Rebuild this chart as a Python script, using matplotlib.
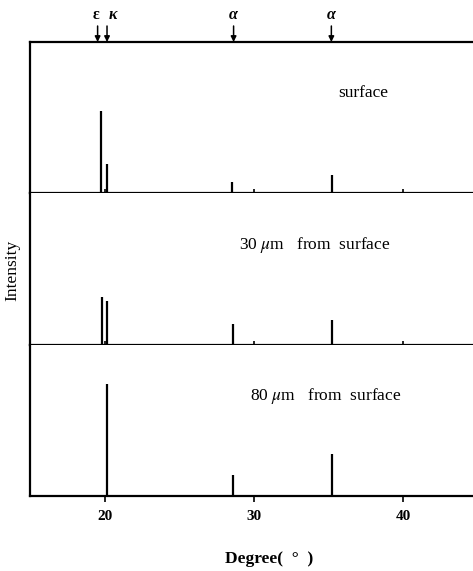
import matplotlib.pyplot as plt
from matplotlib.transforms import blended_transform_factory

plt.rcParams["font.family"] = ["Liberation Serif", "DejaVu Serif"]
plt.rcParams["mathtext.fontset"] = "stix"

# peak positions (degree) and heights
surf_pos = [19.76, 20.13, 28.55, 35.2]
surf_int = [82, 29, 11, 18]
mid_pos = [19.8, 20.15, 28.6, 35.2]
mid_int = [48, 44, 21, 25]
deep_pos = [20.13, 28.6, 35.2]
deep_int = [112, 21, 42]

panel_labels = ["surface", "30 $\\mu$m   from  surface", "80 $\\mu$m   from  surface"]
label_x = [37.3, 34.1, 34.8]

phase_names = ["ε", "κ", "α", "α"]
phase_arrow_x = [19.53, 20.16, 28.64, 35.19]
phase_text_x = [19.45, 20.55, 28.64, 35.19]

fig = plt.figure(figsize=(4.73, 5.71), dpi=100)
W, H = 473, 571
left = 30 / W
top_px, bot_px = 42, 496
ph = (bot_px - top_px) / 3

axes = []
for i in range(3):
    y0 = 1 - (top_px + ph * (i + 1)) / H
    ax = fig.add_axes([left, y0, 1 - left, ph / H])
    axes.append(ax)

data = [(surf_pos, surf_int), (mid_pos, mid_int), (deep_pos, deep_int)]
for i, ax in enumerate(axes):
    pos, inten = data[i]
    ax.vlines(pos, 0, inten, color="black", linewidth=1.6)
    ax.set_xlim(15, 44.68)
    ax.set_ylim(0, ph)
    ax.set_yticks([])
    ax.spines["right"].set_visible(False)
    for s in ["left", "bottom", "top"]:
        ax.spines[s].set_linewidth(1.6)
    if i > 0:
        ax.spines["top"].set_visible(False)
    ax.text(label_x[i], 0.66 * ph, panel_labels[i], fontsize=12.5,
            ha="center", va="center")
    ax.set_xticks([20, 30, 40])
    if i < 2:
        ax.tick_params(axis="x", direction="in", length=3, width=1.2, labelbottom=False)
    else:
        ax.set_xticklabels(["20", "30", "40"], fontsize=11, fontweight="bold")
        ax.tick_params(axis="x", direction="out", length=4, width=1.2, pad=6)

top_ax = axes[0]
tr = blended_transform_factory(top_ax.transData, fig.transFigure)
for name, xa, xt in zip(phase_names, phase_arrow_x, phase_text_x):
    top_ax.annotate("", xy=(xa, 1 - 42 / H), xytext=(xa, 1 - 26 / H),
                    xycoords=tr, textcoords=tr,
                    arrowprops=dict(arrowstyle="-|>", color="black", lw=1.1,
                                    mutation_scale=8, shrinkA=0, shrinkB=0))
    style = "normal" if name == "ε" else "italic"
    top_ax.text(xt, 1 - 15 / H, name, transform=tr, ha="center", va="center",
                fontsize=11.5, fontstyle=style, fontweight="bold")

fig.text(12 / W, 1 - 270 / H, "Intensity", rotation=90, ha="center", va="center",
         fontsize=12.5)
fig.text(269 / W, 1 - 559 / H, "Degree(  °  )", ha="center", va="center",
         fontsize=12.5, fontweight="bold")

fig.savefig("out.png", dpi=100)
